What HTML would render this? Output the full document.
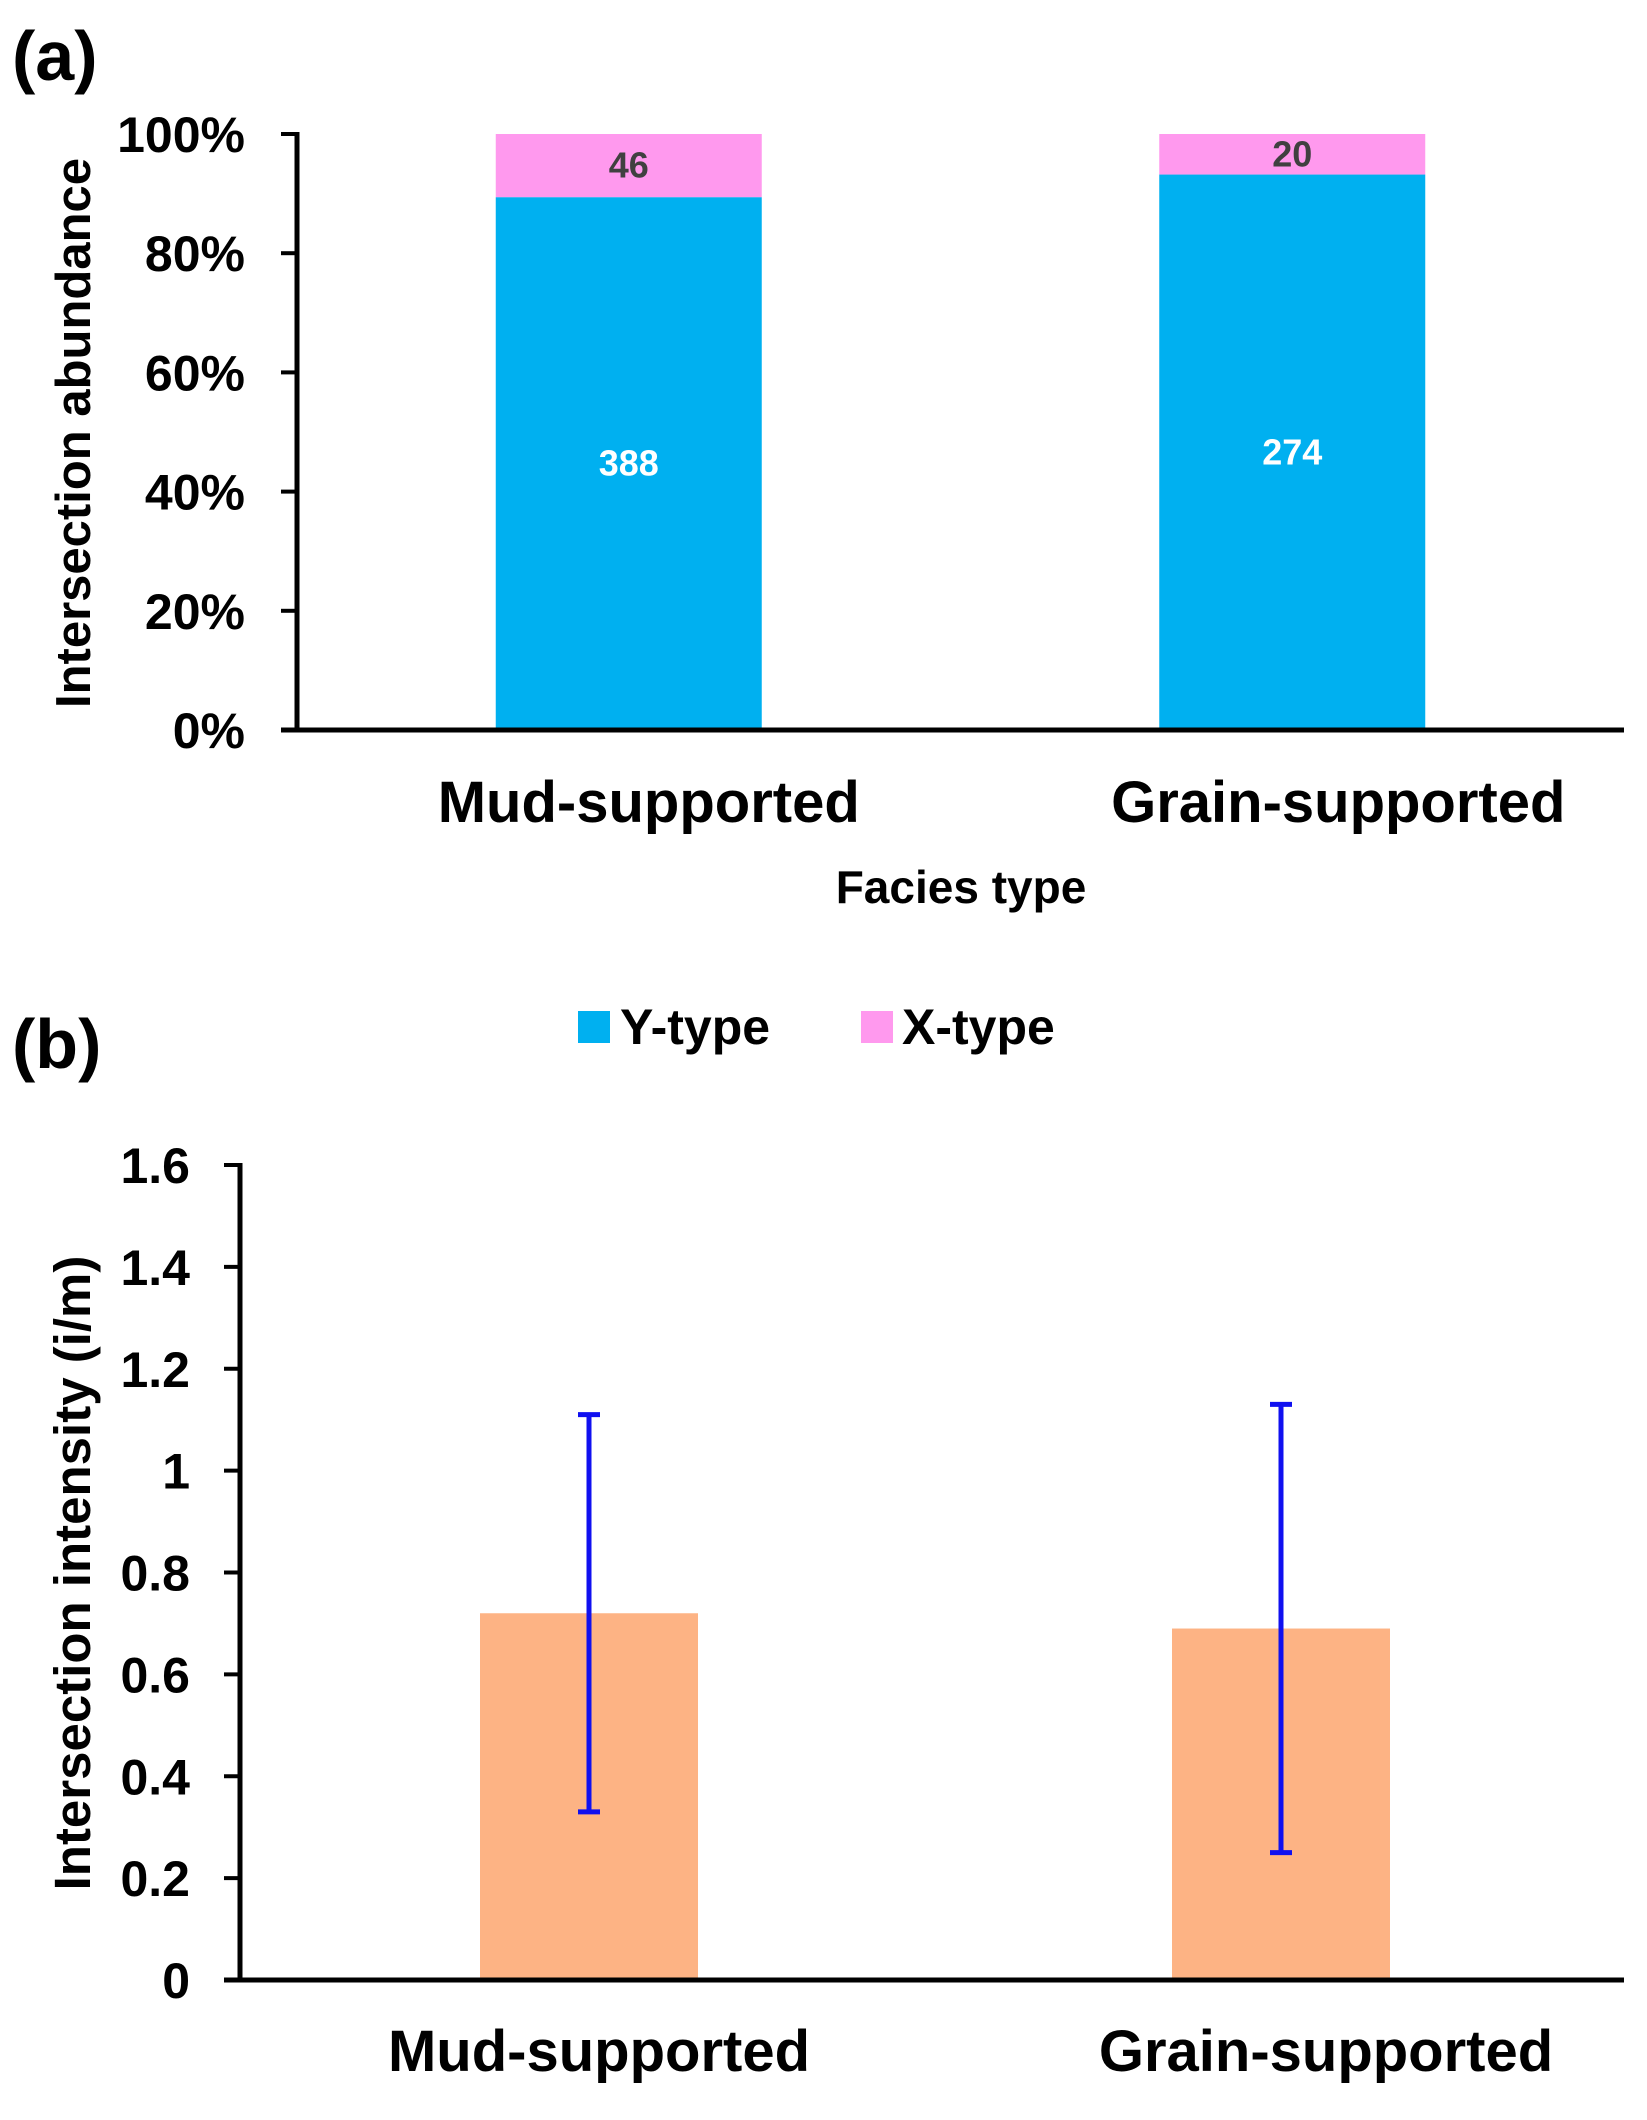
<!DOCTYPE html>
<html><head><meta charset="utf-8">
<style>
html,body{margin:0;padding:0;background:#fff;}
svg{display:block;}
text{font-family:"Liberation Sans Narrow","Liberation Sans",sans-serif;font-weight:bold;}
.wide{font-family:"Liberation Sans","DejaVu Sans",sans-serif;}
</style></head>
<body>
<svg id="chart" width="1647" height="2120" viewBox="0 0 1647 2120" xmlns="http://www.w3.org/2000/svg">
  <text x="12" y="80" font-size="70" fill="#000">(a)</text>
  <text x="12" y="1068" font-size="70" fill="#000">(b)</text>
  <text class="wide" transform="translate(90,433) rotate(-90)" text-anchor="middle" font-size="49" fill="#000">Intersection abundance</text>
  <text x="961" y="903" text-anchor="middle" font-size="46" fill="#000">Facies type</text>
  <text class="wide" transform="translate(90,1573) rotate(-90)" text-anchor="middle" font-size="51" fill="#000">Intersection intensity (i/m)</text>
  <g>
    <rect x="578" y="1011" width="32" height="32" fill="#00B0F0"/>
    <text x="620" y="1044" font-size="50" fill="#000">Y-type</text>
    <rect x="861" y="1011" width="32" height="32" fill="#FF99EE"/>
    <text x="902" y="1044" font-size="50" fill="#000">X-type</text>
  </g>
  <g id="pa"></g>
  <g id="pb"></g>
</svg>
<script>
const categories = ["Mud-supported", "Grain-supported"];
const yTypeCounts = [388, 274];
const xTypeCounts = [46, 20];
const aTickLabels = ["0%", "20%", "40%", "60%", "80%", "100%"];
const aTickValues = [0, 0.2, 0.4, 0.6, 0.8, 1.0];
const intensityMeans = [0.72, 0.69];
const intensityLow = [0.33, 0.25];
const intensityHigh = [1.11, 1.13];
const bTickValues = [0, 0.2, 0.4, 0.6, 0.8, 1, 1.2, 1.4, 1.6];
const bTickLabels = ["0", "0.2", "0.4", "0.6", "0.8", "1", "1.2", "1.4", "1.6"];

const NS = "http://www.w3.org/2000/svg";
function mk(parent, tag, attrs, txt) {
  const e = document.createElementNS(NS, tag);
  for (const k in attrs) e.setAttribute(k, attrs[k]);
  if (txt !== undefined) e.textContent = txt;
  parent.appendChild(e);
  return e;
}

// Panel A
const pa = document.getElementById("pa");
const A = {x0: 297, x1: 1624, y0: 730, y1: 134};
const ay = v => A.y0 - v * (A.y0 - A.y1);
const aBandW = (A.x1 - A.x0) / categories.length;
const ax = i => A.x0 + aBandW * (i + 0.5);
const aBarW = 266;
categories.forEach((c, i) => {
  const tot = yTypeCounts[i] + xTypeCounts[i];
  const fy = yTypeCounts[i] / tot;
  const cx = ax(i);
  let r = mk(pa, "rect", {x: cx - aBarW / 2, y: ay(fy), width: aBarW, height: ay(0) - ay(fy), fill: "#00B0F0"});
  
  
  r = mk(pa, "rect", {x: cx - aBarW / 2, y: ay(1), width: aBarW, height: ay(fy) - ay(1), fill: "#FF99EE"});
  
  
  let t = mk(pa, "text", {x: cx, y: ay(fy / 2) + 12, "text-anchor": "middle", "font-size": 36, fill: "#fff"}, yTypeCounts[i]);
  
  
  t = mk(pa, "text", {x: cx, y: ay((1 + fy) / 2) + 12, "text-anchor": "middle", "font-size": 36, fill: "#404040"}, xTypeCounts[i]);
  
  
  t = mk(pa, "text", {x: cx + (i ? 46 : 20), y: 822, "text-anchor": "middle", "font-size": 58, fill: "#000"}, c);
  
  
});
aTickValues.forEach((v, i) => {
  let l = mk(pa, "line", {x1: A.x0 - 16, x2: A.x0, y1: ay(v), y2: ay(v), stroke: "#000", "stroke-width": 4});
  
  
  let t = mk(pa, "text", {x: 245, y: ay(v) + 18, "text-anchor": "end", "font-size": 50, fill: "#000"}, aTickLabels[i]);
  
  
});
let la = mk(pa, "line", {x1: A.x0, x2: A.x0, y1: A.y1 - 2, y2: A.y0 + 2, stroke: "#000", "stroke-width": 5});


la = mk(pa, "line", {x1: A.x0 - 16, x2: A.x1, y1: A.y0, y2: A.y0, stroke: "#000", "stroke-width": 5});



// Panel B
const pb = document.getElementById("pb");
const B = {x0: 240, x1: 1624, y0: 1980, y1: 1165, max: 1.6};
const by = v => B.y0 - v / B.max * (B.y0 - B.y1);
const bBandW = (B.x1 - B.x0) / categories.length;
const bx = i => B.x0 + bBandW * (i + 0.5) + 3;
const bBarW = 218;
categories.forEach((c, i) => {
  const cx = bx(i);
  let r = mk(pb, "rect", {x: cx - bBarW / 2, y: by(intensityMeans[i]), width: bBarW, height: by(0) - by(intensityMeans[i]), fill: "#FDB384"});
  
  
  let e = mk(pb, "line", {x1: cx, x2: cx, y1: by(intensityLow[i]), y2: by(intensityHigh[i]), stroke: "#1010F0", "stroke-width": 5});
  
  
  e = mk(pb, "line", {x1: cx - 11, x2: cx + 11, y1: by(intensityHigh[i]), y2: by(intensityHigh[i]), stroke: "#1010F0", "stroke-width": 5});
  
  
  e = mk(pb, "line", {x1: cx - 11, x2: cx + 11, y1: by(intensityLow[i]), y2: by(intensityLow[i]), stroke: "#1010F0", "stroke-width": 5});
  
  
  let t = mk(pb, "text", {x: cx + (i ? 45 : 10), y: 2071, "text-anchor": "middle", "font-size": 58, fill: "#000"}, c);
  
  
});
bTickValues.forEach((v, i) => {
  let l = mk(pb, "line", {x1: B.x0 - 16, x2: B.x0, y1: by(v), y2: by(v), stroke: "#000", "stroke-width": 4});
  
  
  let t = mk(pb, "text", {x: 190, y: by(v) + 18, "text-anchor": "end", "font-size": 50, fill: "#000"}, bTickLabels[i]);
  
  
});
let lb = mk(pb, "line", {x1: B.x0, x2: B.x0, y1: B.y1 - 2, y2: B.y0 + 2, stroke: "#000", "stroke-width": 5});


lb = mk(pb, "line", {x1: B.x0 - 16, x2: B.x1, y1: B.y0, y2: B.y0, stroke: "#000", "stroke-width": 5});


</script>
</body></html>
